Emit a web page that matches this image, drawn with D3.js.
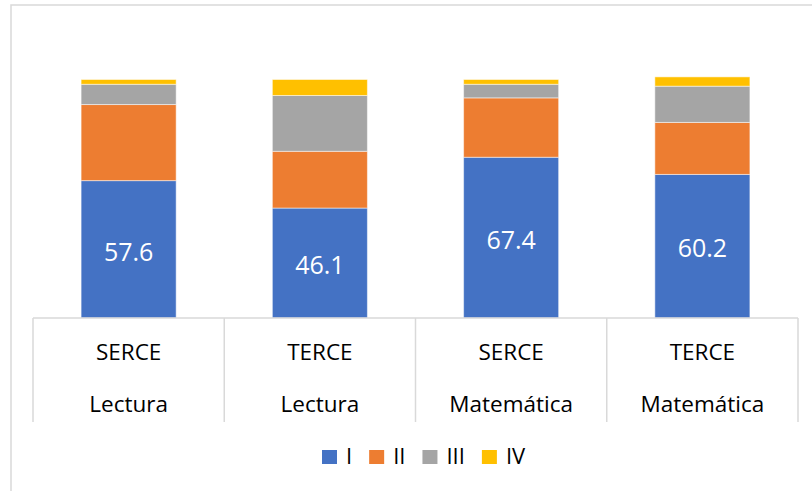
<!DOCTYPE html>
<html>
<head>
<meta charset="utf-8">
<script src="https://cdn.jsdelivr.net/npm/d3@7"></script>
<style>
  body { margin: 0; background: #fff; }
  text { font-family: "Open Sans", sans-serif; }
</style>
</head>
<body>
<svg id="chart" width="812" height="491"></svg>
<script>
// data
var tests = ['SERCE', 'TERCE', 'SERCE', 'TERCE'];
var subjects = ['Lectura', 'Lectura', 'Matemática', 'Matemática'];
var levels = ['I', 'II', 'III', 'IV'];
var nivelI = [57.6, 46.1, 67.4, 60.2];
var nivelII = [31.9, 23.8, 24.9, 21.8];
var nivelIII = [8.5, 23.4, 5.7, 15.2];
var nivelIV = [2.0, 6.7, 2.0, 3.9];
var colors = ['#4472C4', '#ED7D31', '#A5A5A5', '#FFC000'];

var rows = tests.map(function (t, i) {
    return { key: i, I: nivelI[i], II: nivelII[i], III: nivelIII[i], IV: nivelIV[i] };
});

var svg = d3.select('#chart');
var baseY = 318, tableBottom = 422;

// outer chart frame (only top and left edges are in view)
svg.append('path')
    .attr('d', 'M11,491V5H812')
    .attr('fill', 'none')
    .attr('stroke', '#d9d9d9')
    .attr('stroke-width', 1.5);

var x = d3.scaleBand()
    .domain(rows.map(function (d) { return d.key; }))
    .range([33, 798])
    .padding(0);
var barW = x.bandwidth() * 0.497;

var y = d3.scaleLinear()
    .domain([0, 100])
    .range([baseY, 79.5]);

var color = d3.scaleOrdinal().domain(levels).range(colors);

var stacked = d3.stack().keys(levels)(rows);

svg.append('g').selectAll('g')
    .data(stacked)
    .join('g')
    .attr('fill', function (s) { return color(s.key); })
    .selectAll('rect')
    .data(function (s) { return s; })
    .join('rect')
    .attr('x', function (d) { return x(d.data.key) + (x.bandwidth() - barW) / 2; })
    .attr('y', function (d) { return y(d[1]); })
    .attr('width', barW)
    .attr('height', function (d) { return y(d[0]) - y(d[1]); })
    .attr('stroke', '#ffffff')
    .attr('stroke-opacity', 0.5)
    .attr('stroke-width', 1);

// data labels on level I
svg.append('g').selectAll('text')
    .data(stacked[0])
    .join('text')
    .attr('x', function (d) { return x(d.data.key) + x.bandwidth() / 2; })
    .attr('y', function (d) { return (y(d[0]) + y(d[1])) / 2; })
    .attr('dy', '0.45em')
    .attr('text-anchor', 'middle')
    .attr('fill', '#fff')
    .style('font-size', '25px')
    .text(function (d) { return d[1].toFixed(1); });

// category table
var table = svg.append('g')
    .attr('stroke', '#d9d9d9')
    .attr('stroke-width', 1.5);
table.append('line')
    .attr('x1', x.range()[0]).attr('x2', x.range()[1])
    .attr('y1', baseY).attr('y2', baseY);
var edges = rows.map(function (d) { return x(d.key); }).concat([x.range()[1]]);
table.selectAll('line.v')
    .data(edges)
    .join('line')
    .attr('class', 'v')
    .attr('x1', function (d) { return d; }).attr('x2', function (d) { return d; })
    .attr('y1', baseY).attr('y2', tableBottom);

var cats = svg.append('g')
    .attr('text-anchor', 'middle')
    .attr('fill', '#000')
    .style('font-size', '22.5px');
cats.selectAll('text.t')
    .data(rows)
    .join('text')
    .attr('class', 't')
    .attr('x', function (d) { return x(d.key) + x.bandwidth() / 2; })
    .attr('y', 360)
    .text(function (d) { return tests[d.key]; });
cats.selectAll('text.s')
    .data(rows)
    .join('text')
    .attr('class', 's')
    .attr('x', function (d) { return x(d.key) + x.bandwidth() / 2; })
    .attr('y', 411.5)
    .text(function (d) { return subjects[d.key]; });

// legend
var legend = svg.append('g');
var lx = 322;
levels.forEach(function (lv) {
    legend.append('rect')
        .attr('x', lx).attr('y', 450)
        .attr('width', 15).attr('height', 14)
        .attr('fill', color(lv));
    var t = legend.append('text')
        .attr('x', lx + 24)
        .attr('y', 464)
        .attr('fill', '#000')
        .style('font-size', '22px')
        .text(lv);
    lx = lx + 24 + t.node().getComputedTextLength() + 17;
});
</script>
</body>
</html>
